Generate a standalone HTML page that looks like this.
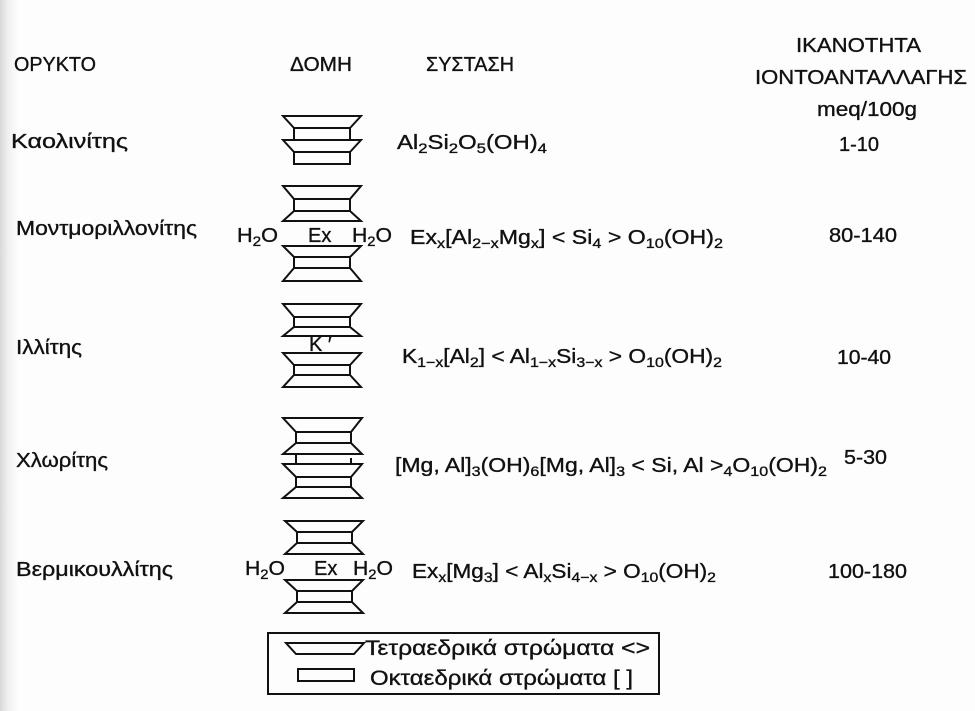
<!DOCTYPE html>
<html>
<head>
<meta charset="utf-8">
<style>
  html,body{margin:0;padding:0;background:#fff;}
  svg{display:block;}
  text{font-family:"Liberation Sans","DejaVu Sans",sans-serif;fill:#111;stroke:#111;stroke-width:0.35;}
</style>
</head>
<body>
<svg width="975" height="711" viewBox="0 0 975 711" xmlns="http://www.w3.org/2000/svg">
  <defs>
    <linearGradient id="lg" x1="0" x2="1" y1="0" y2="0">
      <stop offset="0" stop-color="#d8d8d8"/>
      <stop offset="1" stop-color="#ffffff" stop-opacity="0"/>
    </linearGradient>
  </defs>
  <rect x="0" y="0" width="975" height="711" fill="#fdfdfd"/>
  <rect x="0" y="0" width="22" height="711" fill="url(#lg)"/>

  <!-- Headers -->
  <g font-size="20">
    <text x="14" y="71" textLength="82" lengthAdjust="spacingAndGlyphs">ΟΡΥΚΤΟ</text>
    <text x="290" y="71" textLength="62" lengthAdjust="spacingAndGlyphs">ΔΟΜΗ</text>
    <text x="426" y="71" textLength="88" lengthAdjust="spacingAndGlyphs">ΣΥΣΤΑΣΗ</text>
    <text x="796" y="52" textLength="125" lengthAdjust="spacingAndGlyphs">ΙΚΑΝΟΤΗΤΑ</text>
    <text x="755" y="84" textLength="212" lengthAdjust="spacingAndGlyphs">ΙΟΝΤΟΑΝΤΑΛΛΑΓΗΣ</text>
    <text x="817" y="116" textLength="100" lengthAdjust="spacingAndGlyphs">meq/100g</text>
  </g>

  <!-- Mineral names -->
  <g font-size="20">
    <text x="11" y="148" textLength="117" lengthAdjust="spacingAndGlyphs">Καολινίτης</text>
    <text x="16" y="235" textLength="181" lengthAdjust="spacingAndGlyphs">Μοντμοριλλονίτης</text>
    <text x="16" y="354" textLength="66" lengthAdjust="spacingAndGlyphs">Ιλλίτης</text>
    <text x="16" y="467" textLength="92" lengthAdjust="spacingAndGlyphs">Χλωρίτης</text>
    <text x="16" y="576" textLength="157" lengthAdjust="spacingAndGlyphs">Βερμικουλλίτης</text>
  </g>

  <!-- CEC values -->
  <g font-size="20">
    <text x="839" y="151" textLength="40" lengthAdjust="spacingAndGlyphs">1-10</text>
    <text x="829" y="242" textLength="68" lengthAdjust="spacingAndGlyphs">80-140</text>
    <text x="837" y="364" textLength="54" lengthAdjust="spacingAndGlyphs">10-40</text>
    <text x="844" y="464" textLength="43" lengthAdjust="spacingAndGlyphs">5-30</text>
    <text x="828" y="578" textLength="79" lengthAdjust="spacingAndGlyphs">100-180</text>
  </g>

  <!-- Formulas -->
  <g font-size="20">
    <text x="397" y="149" textLength="150" lengthAdjust="spacingAndGlyphs">Al<tspan font-size="14" dy="4">2</tspan><tspan dy="-4">Si</tspan><tspan font-size="14" dy="4">2</tspan><tspan dy="-4">O</tspan><tspan font-size="14" dy="4">5</tspan><tspan dy="-4">(OH)</tspan><tspan font-size="14" dy="4">4</tspan></text>

    <text x="410" y="244" textLength="313" lengthAdjust="spacingAndGlyphs">Ex<tspan font-size="14" dy="4">x</tspan><tspan dy="-4">[Al</tspan><tspan font-size="14" dy="4">2−x</tspan><tspan dy="-4">Mg</tspan><tspan font-size="14" dy="4">x</tspan><tspan dy="-4">] &lt; Si</tspan><tspan font-size="14" dy="4">4</tspan><tspan dy="-4"> &gt; O</tspan><tspan font-size="14" dy="4">10</tspan><tspan dy="-4">(OH)</tspan><tspan font-size="14" dy="4">2</tspan></text>

    <text x="402" y="363" textLength="320" lengthAdjust="spacingAndGlyphs">K<tspan font-size="14" dy="4">1−x</tspan><tspan dy="-4">[Al</tspan><tspan font-size="14" dy="4">2</tspan><tspan dy="-4">] &lt; Al</tspan><tspan font-size="14" dy="4">1−x</tspan><tspan dy="-4">Si</tspan><tspan font-size="14" dy="4">3−x</tspan><tspan dy="-4"> &gt; O</tspan><tspan font-size="14" dy="4">10</tspan><tspan dy="-4">(OH)</tspan><tspan font-size="14" dy="4">2</tspan></text>

    <text x="395" y="472" textLength="432" lengthAdjust="spacingAndGlyphs">[Mg, Al]<tspan font-size="14" dy="4">3</tspan><tspan dy="-4">(OH)</tspan><tspan font-size="14" dy="4">6</tspan><tspan dy="-4">[Mg, Al]</tspan><tspan font-size="14" dy="4">3</tspan><tspan dy="-4"> &lt; Si, Al &gt;</tspan><tspan font-size="14" dy="4">4</tspan><tspan dy="-4">O</tspan><tspan font-size="14" dy="4">10</tspan><tspan dy="-4">(OH)</tspan><tspan font-size="14" dy="4">2</tspan></text>

    <text x="412" y="578" textLength="304" lengthAdjust="spacingAndGlyphs">Ex<tspan font-size="14" dy="4">x</tspan><tspan dy="-4">[Mg</tspan><tspan font-size="14" dy="4">3</tspan><tspan dy="-4">] &lt; Al</tspan><tspan font-size="14" dy="4">x</tspan><tspan dy="-4">Si</tspan><tspan font-size="14" dy="4">4−x</tspan><tspan dy="-4"> &gt; O</tspan><tspan font-size="14" dy="4">10</tspan><tspan dy="-4">(OH)</tspan><tspan font-size="14" dy="4">2</tspan></text>
  </g>

  <!-- Interlayer labels -->
  <g font-size="20">
    <text x="237" y="242" textLength="41" lengthAdjust="spacingAndGlyphs">H<tspan font-size="14" dy="4">2</tspan><tspan dy="-4">O</tspan></text>
    <text x="308" y="242">Ex</text>
    <text x="352" y="242" textLength="40" lengthAdjust="spacingAndGlyphs">H<tspan font-size="14" dy="4">2</tspan><tspan dy="-4">O</tspan></text>

    <text x="309" y="351">K ′</text>

    <text x="245" y="575" textLength="40" lengthAdjust="spacingAndGlyphs">H<tspan font-size="14" dy="4">2</tspan><tspan dy="-4">O</tspan></text>
    <text x="314" y="575">Ex</text>
    <text x="353" y="575" textLength="40" lengthAdjust="spacingAndGlyphs">H<tspan font-size="14" dy="4">2</tspan><tspan dy="-4">O</tspan></text>
  </g>

  <!-- Structures -->
  <g fill="none" stroke="#111" stroke-width="2" stroke-linejoin="miter">
    <!-- Kaolinite: T O T O -->
    <polygon points="283,116 361,116 350,128 294,128"/>
    <rect x="294" y="128" width="56" height="12"/>
    <polygon points="283,140 361,140 350,152 294,152"/>
    <rect x="294" y="152" width="56" height="12"/>

    <!-- Montmorillonite -->
    <polygon points="283,186 361,186 350,199 294,199"/>
    <rect x="294" y="199" width="56" height="12"/>
    <polygon points="294,211 350,211 361,221 283,221"/>

    <polygon points="283,246 361,246 350,257 294,257"/>
    <rect x="294" y="257" width="56" height="11"/>
    <polygon points="294,268 350,268 361,281 283,281"/>

    <!-- Illite -->
    <polygon points="283,304 361,304 350,317 294,317"/>
    <rect x="294" y="317" width="56" height="10"/>
    <polygon points="294,327 350,327 361,336 283,336"/>

    <polygon points="283,353 361,353 350,365 294,365"/>
    <rect x="294" y="365" width="56" height="10"/>
    <polygon points="294,375 350,375 361,387 283,387"/>

    <!-- Chlorite -->
    <polygon points="283,418 362,418 351,432 296,432"/>
    <rect x="296" y="432" width="55" height="11"/>
    <polygon points="296,443 351,443 362,454 283,454"/>
    <line x1="296" y1="454" x2="296" y2="464"/>
    <line x1="351" y1="458" x2="351" y2="464"/>
    <polygon points="283,464 362,464 351,477 296,477"/>
    <rect x="296" y="477" width="55" height="10"/>
    <polygon points="296,487 351,487 362,498 283,498"/>

    <!-- Vermiculite -->
    <polygon points="285,521 363,521 352,532 297,532"/>
    <rect x="297" y="532" width="55" height="11"/>
    <polygon points="297,543 352,543 363,554 285,554"/>

    <polygon points="285,580 363,580 352,591 297,591"/>
    <rect x="297" y="591" width="55" height="11"/>
    <polygon points="297,602 352,602 363,613 285,613"/>

    <!-- Legend -->
    <rect x="268" y="633" width="391" height="61"/>
    <polygon points="286,643 364,643 354,654 296,654"/>
    <rect x="298" y="669" width="56" height="12"/>
  </g>

  <g font-size="21">
    <text x="365" y="655" textLength="285" lengthAdjust="spacingAndGlyphs">Τετραεδρικά στρώματα &lt;&gt;</text>
    <text x="370" y="685" textLength="263" lengthAdjust="spacingAndGlyphs">Οκταεδρικά στρώματα  [ ]</text>
  </g>
</svg>
</body>
</html>
